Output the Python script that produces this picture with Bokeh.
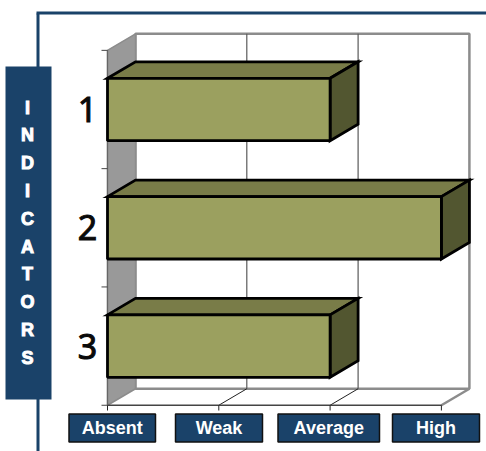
from bokeh.plotting import figure
from bokeh.models import Range1d
from bokeh.core.properties import value
from bokeh.embed import file_html
from bokeh.resources import INLINE

indicators = ["1", "2", "3"]
levels = [2, 3, 2]
level_labels = ["Absent", "Weak", "Average", "High"]
side_title = list("INDICATORS")

W, H = 486, 451
# pixel <-> data calibration
X0, XU = 107.0, 111.3   # px at level 0, px per level
Y1, YU = 109.0, 118.3   # px at indicator 1, px per indicator
DX, DY = 28.0 / XU, 16.5 / YU  # 3-D depth in data units
HALF = 31.2 / YU

def X(px): return (px - X0) / XU
def Y(py): return (py - Y1) / YU + 1

NAVY, GREY = "#1a4269", "#8c8c8c"
FRONT, TOP, SIDE = "#9ba05f", "#797c48", "#525630"

p = figure(width=W, height=H, output_backend="svg", toolbar_location=None,
           x_range=Range1d(X(0), X(W)), y_range=Range1d(Y(H), Y(0)),
           min_border=0, outline_line_color=None,
           styles={"position": "absolute", "left": "0px", "top": "0px"})
p.axis.visible = False
p.grid.visible = False

ymin, ymax = 0.5, 3.5
xmax = len(level_labels) - 1

# frame lines
p.line([X(37.5), X(37.5)], [Y(451), Y(13)], line_color=NAVY, line_width=3)
p.line([X(36), X(486)], [Y(12.5), Y(12.5)], line_color=NAVY, line_width=3)

# back wall, floor and left wall
p.patch([0 + DX, xmax + DX, xmax + DX, 0 + DX],
        [ymin - DY, ymin - DY, ymax - DY, ymax - DY],
        fill_color="white", line_color=GREY, line_width=2.5)
p.patch([0, DX, DX, 0], [ymin, ymin - DY, ymax - DY, ymax],
        fill_color="#999999", line_color=GREY, line_width=1.5)
p.line([xmax, xmax + DX], [ymax, ymax - DY], line_color=GREY, line_width=2.5)
for v in range(1, xmax):
    p.line([v + DX, v + DX], [ymin - DY, ymax - DY], line_color="#5a5a5a", line_width=1.2)
    p.line([v, v + DX], [ymax, ymax - DY], line_color="#222222", line_width=1)

# axes
p.line([0, xmax], [ymax, ymax], line_color="#444444", line_width=1.5)
p.line([0, 0], [ymin, ymax], line_color="#666666", line_width=1.2)
for v in range(len(level_labels)):
    p.line([v, v], [ymax, Y(410)], line_color="#222222", line_width=1)
for t in [ymin, 1.5, 2.5, ymax]:
    p.line([X(101), 0], [t, t], line_color="#444444", line_width=1)

# bars
for i, v in enumerate(levels):
    c = i + 1
    a, b = c - HALF, c + HALF
    p.patch([0, DX, v + DX, v], [a, a - DY, a - DY, a], fill_color=TOP,
            line_color="black", line_width=2.8, line_join="miter")
    p.patch([v, v + DX, v + DX, v], [a, a - DY, b - DY, b], fill_color=SIDE,
            line_color="black", line_width=2.8, line_join="miter")
    p.quad(left=0, right=v, top=a, bottom=b, fill_color=FRONT,
           line_color="black", line_width=2.8)

# category labels
p.text([X(87)] * 3, [1, 2, 3], text=indicators, text_font=value("Noto Sans"),
       text_font_size="34px", text_color="#0a0a0a", text_outline_color="#0a0a0a",
       text_align="center", text_baseline="middle")

# side title
p.quad(left=X(5), right=X(51), top=Y(66), bottom=Y(399), fill_color=NAVY, line_color=None)
p.text([X(27)] * len(side_title), [Y(107 + 27.8 * i) for i in range(len(side_title))],
       text=side_title, text_font=value("Liberation Sans"), text_font_style="bold",
       text_font_size="18px", text_color="white", text_outline_color="white",
       text_align="center", text_baseline="middle")

# level boxes
lefts = [68.5, 175, 277.5, 392]
rights = [155, 262, 379, 479]
p.quad(left=[X(v) for v in lefts], right=[X(v) for v in rights],
       top=Y(413.5), bottom=Y(441.5), fill_color=NAVY, line_color="#111111", line_width=1.5)
p.text([X((l + r) / 2) for l, r in zip(lefts, rights)], [Y(427.5)] * 4, text=level_labels,
       text_font=value("Liberation Sans"), text_font_style="bold", text_font_size="18px",
       text_color="white", text_align="center", text_baseline="middle")

open("out.html", "w").write(file_html(p, INLINE))
